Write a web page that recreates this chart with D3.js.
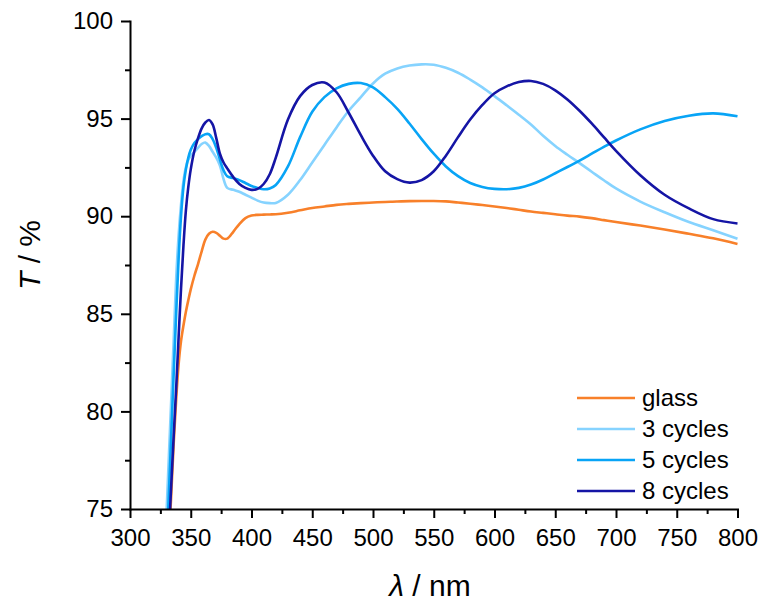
<!DOCTYPE html>
<html>
<head>
<meta charset="utf-8">
<script src="https://cdn.jsdelivr.net/npm/d3@7"></script>
<style>
  body { margin: 0; background: #fff; }
  text { font-family: "Liberation Sans", Arial, sans-serif; fill: #000; }
</style>
</head>
<body>
<svg id="chart" width="761" height="608"></svg>
<script>
// wavelength grid, nm
const wl = [325, 330, 332, 334, 336, 338, 340, 342, 344, 346, 348, 350, 353, 356, 359, 362, 365, 368, 371, 374, 377, 380,
  385, 390, 395, 400, 405, 410, 415, 420, 430, 440, 450, 460, 470, 480, 490, 500, 510, 520, 530, 540, 550, 560, 570, 580,
  590, 600, 610, 620, 630, 640, 650, 660, 670, 680, 690, 700, 720, 740, 760, 780, 800];

// transmittance, %
const glass = [64, 69.5, 73.2, 75.8, 78.4, 80.6, 82.4, 83.6, 84.4, 85.1, 85.7, 86.25, 86.95, 87.55, 88.2, 88.8, 89.1, 89.2, 89.15, 89.0, 88.85, 88.85,
  89.2, 89.6, 89.9, 90.03, 90.07, 90.08, 90.09, 90.1, 90.18, 90.3, 90.42, 90.5, 90.58, 90.63, 90.67, 90.7, 90.73, 90.75, 90.77, 90.78, 90.78, 90.76, 90.7, 90.64,
  90.57, 90.5, 90.42, 90.33, 90.24, 90.17, 90.1, 90.03, 89.98, 89.9, 89.8, 89.7, 89.52, 89.32, 89.1, 88.87, 88.58];

const cycles3 = [67, 74.7, 77.7, 80.7, 83.7, 86.8, 89.0, 90.6, 91.8, 92.5, 92.9, 93.1, 93.3, 93.5, 93.7, 93.77, 93.6, 93.3, 93.0, 92.6, 91.9, 91.45,
  91.35, 91.25, 91.1, 90.95, 90.8, 90.7, 90.67, 90.68, 91.1, 91.85, 92.75, 93.65, 94.55, 95.4, 96.1, 96.8, 97.3, 97.57, 97.72, 97.78, 97.76, 97.6, 97.35, 97.0,
  96.6, 96.15, 95.68, 95.2, 94.7, 94.12, 93.6, 93.15, 92.72, 92.28, 91.84, 91.42, 90.75, 90.2, 89.7, 89.28, 88.85];

const cycles5 = [66, 72.8, 75.8, 78.9, 82.0, 85.0, 87.8, 90.0, 91.5, 92.4, 93.0, 93.4, 93.75, 93.95, 94.1, 94.2, 94.2, 93.95, 93.5, 92.9, 92.35, 92.05,
  91.95, 91.85, 91.7, 91.55, 91.45, 91.38, 91.42, 91.6, 92.55, 94.05, 95.35, 96.1, 96.55, 96.78, 96.82, 96.6, 96.1, 95.5, 94.75, 93.95, 93.2, 92.55, 92.05, 91.7,
  91.5, 91.4, 91.38, 91.45, 91.62, 91.88, 92.2, 92.52, 92.85, 93.2, 93.55, 93.88, 94.45, 94.88, 95.15, 95.27, 95.12];

const cycles8 = [65, 71.6, 73.8, 76.3, 78.8, 81.2, 83.8, 86.3, 88.5, 90.3, 91.5, 92.4, 93.35, 94.0, 94.5, 94.8, 94.93, 94.7, 94.0, 93.2, 92.75, 92.45,
  92.0, 91.65, 91.45, 91.35, 91.4, 91.65, 92.15, 93.0, 94.95, 96.15, 96.72, 96.85, 96.35, 95.3, 94.15, 93.1, 92.3, 91.9, 91.72, 91.85, 92.3, 93.1, 94.05, 94.95,
  95.7, 96.3, 96.65, 96.87, 96.93, 96.78, 96.45, 95.98, 95.4, 94.75, 94.05, 93.35, 92.1, 91.1, 90.4, 89.85, 89.63];

const seriesNames = ["glass", "3 cycles", "5 cycles", "8 cycles"];
const seriesColors = ["#F8802A", "#86D3FF", "#08A4F6", "#1515A5"];
const xTicks = [300, 350, 400, 450, 500, 550, 600, 650, 700, 750, 800];
const yTicks = [75, 80, 85, 90, 95, 100];

const svg = d3.select("#chart");
const plotL = 130, plotR = 737.5, plotT = 21, plotB = 509;

const x = d3.scaleLinear([300, 800], [plotL, plotR]);
const y = d3.scaleLinear([75, 100], [plotB, plotT]);

svg.append("clipPath").attr("id", "plot")
  .append("rect").attr("x", plotL).attr("y", plotT - 5)
  .attr("width", plotR - plotL + 3).attr("height", plotB - plotT + 5);

const allSeries = [glass, cycles3, cycles5, cycles8];
const line = d3.line().x(d => x(d[0])).y(d => y(d[1])).curve(d3.curveCatmullRom.alpha(0.5));

const g = svg.append("g").attr("clip-path", "url(#plot)");
allSeries.forEach((vals, i) => {
  g.append("path")
    .attr("d", line(wl.map((w, j) => [w, vals[j]])))
    .attr("fill", "none")
    .attr("stroke", seriesColors[i])
    .attr("stroke-width", 2.6)
    .attr("stroke-linejoin", "round");
});

// axes
const xMinor = d3.range(325, 800, 50);
const yMinor = d3.range(77.5, 100, 5);

svg.append("g").attr("transform", `translate(0,${plotB})`)
  .call(d3.axisBottom(x).tickValues(xMinor).tickSize(5).tickFormat("").tickSizeOuter(0))
  .call(a => a.select(".domain").remove());
const xa = svg.append("g").attr("transform", `translate(0,${plotB})`)
  .call(d3.axisBottom(x).tickValues(xTicks).tickSize(9).tickPadding(11).tickSizeOuter(0));
xa.selectAll("text").style("font-size", "24px");

svg.append("g").attr("transform", `translate(${plotL},0)`)
  .call(d3.axisLeft(y).tickValues(yMinor).tickSize(5).tickFormat("").tickSizeOuter(0))
  .call(a => a.select(".domain").remove());
const ya = svg.append("g").attr("transform", `translate(${plotL},0)`)
  .call(d3.axisLeft(y).tickValues(yTicks).tickSize(9).tickPadding(8).tickSizeOuter(0));
ya.selectAll("text").style("font-size", "24px");

svg.selectAll(".domain").attr("stroke-width", 2).attr("stroke-linecap", "square");
svg.selectAll(".tick line").attr("stroke-width", 2);

// axis titles
const yt = svg.append("text")
  .attr("transform", "translate(40,255) rotate(-90)")
  .attr("text-anchor", "middle")
  .style("font-size", "30px");
yt.append("tspan").style("font-style", "italic").text("T");
yt.append("tspan").text(" / %");

const xt = svg.append("text")
  .attr("x", 430).attr("y", 596)
  .attr("text-anchor", "middle")
  .style("font-size", "30px");
xt.append("tspan").style("font-style", "italic").text("λ");
xt.append("tspan").text(" / nm");

// legend
const leg = svg.append("g");
seriesNames.forEach((name, i) => {
  const ly = 398 + i * 31;
  leg.append("line")
    .attr("x1", 577).attr("x2", 635).attr("y1", ly).attr("y2", ly)
    .attr("stroke", seriesColors[i]).attr("stroke-width", 2.6);
  leg.append("text")
    .attr("x", 642).attr("y", ly).attr("dy", "0.35em")
    .style("font-size", "24px")
    .text(name);
});
</script>
</body>
</html>
